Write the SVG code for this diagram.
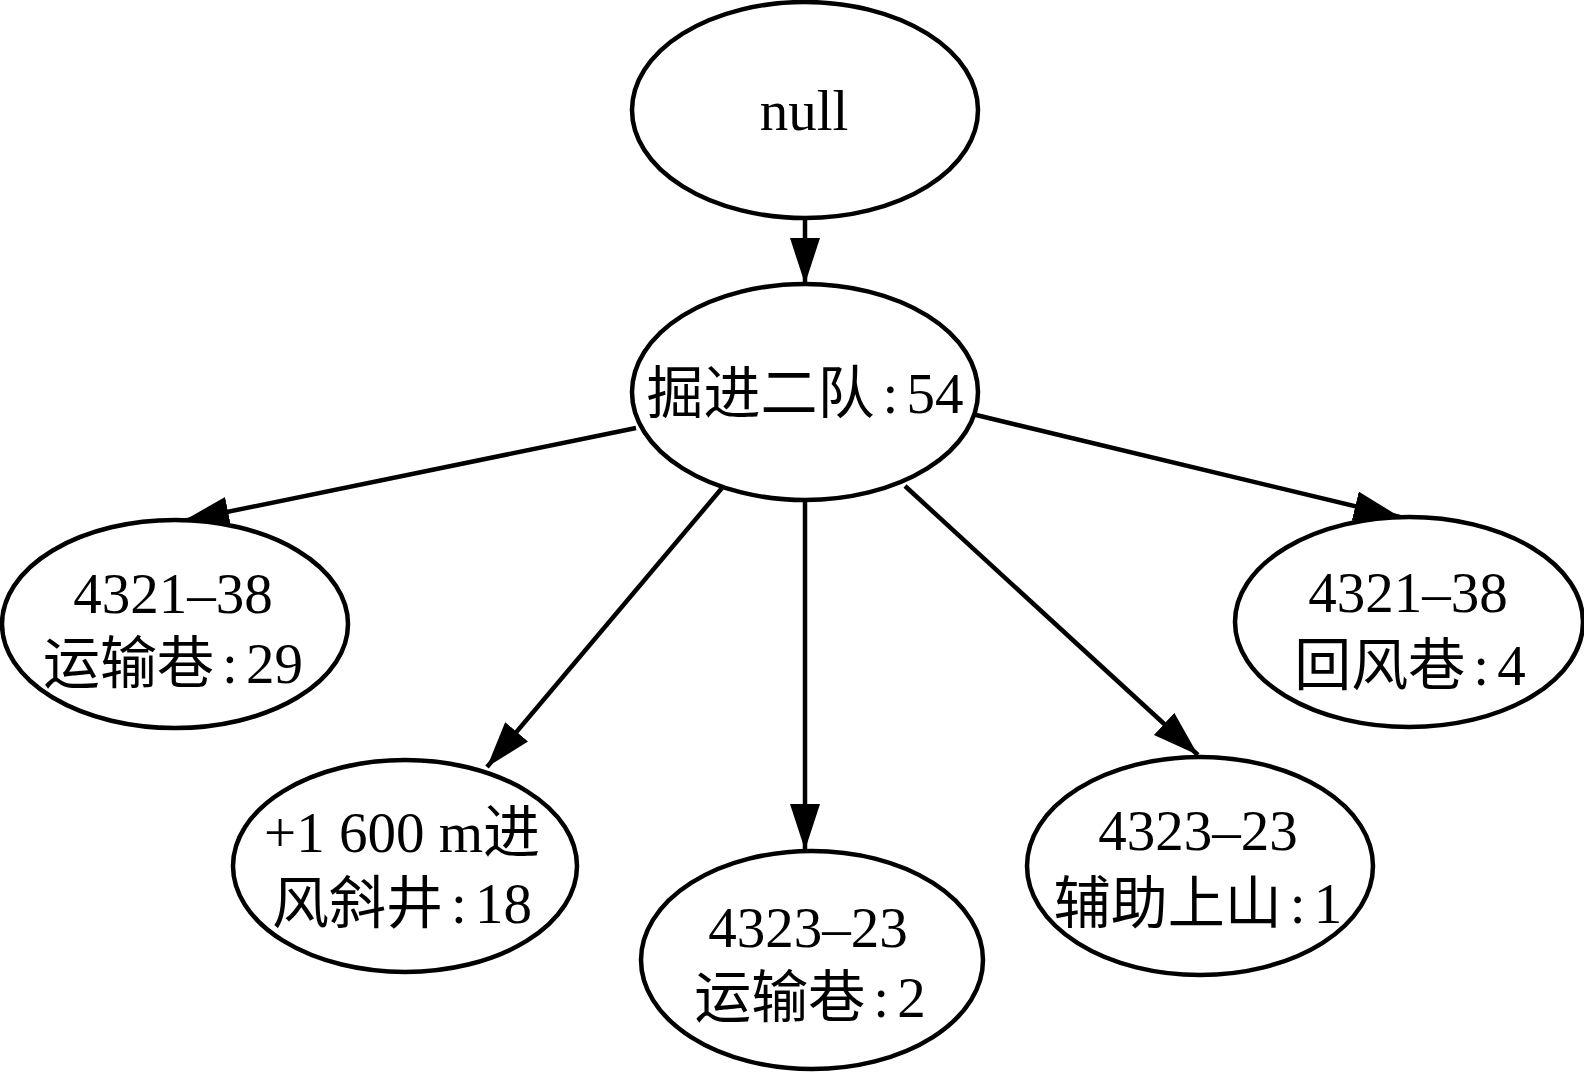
<svg xmlns="http://www.w3.org/2000/svg" width="1584" height="1072" viewBox="0 0 1584 1072">
<style>
.n ellipse{fill:#fff;stroke:#000;stroke-width:4.5}
.n text{font-family:"Liberation Serif","Noto Sans CJK SC",serif;font-size:57px;fill:#000;text-anchor:middle}
.e line{stroke:#000;stroke-width:4.5;marker-end:url(#ah)}
</style>
<defs>
<marker id="ah" markerUnits="userSpaceOnUse" markerWidth="50" markerHeight="34" refX="46" refY="15" orient="auto" viewBox="0 0 50 34">
<path d="M0,0 L46,15 L0,30 z" fill="#000"/>
</marker>
</defs>
<rect width="1584" height="1072" fill="#fff"/>
<g id="edges" class="e">
<line x1="805" y1="218" x2="805" y2="284"/>
<line x1="636" y1="428" x2="183" y2="521"/>
<line x1="972" y1="414" x2="1400" y2="517"/>
<line x1="722" y1="488" x2="487" y2="767"/>
<line x1="805" y1="500" x2="805" y2="850"/>
<line x1="905" y1="486" x2="1198" y2="755"/>
</g>
<g id="n0" class="n">
<ellipse cx="805" cy="110" rx="173" ry="108"/>
<text x="804" y="130">null</text>
</g>
<g id="n1" class="n">
<ellipse cx="805" cy="392" rx="173" ry="108"/>
<text x="805" y="413">掘进二队<tspan dx="8">:</tspan><tspan dx="8">54</tspan></text>
</g>
<g id="n2" class="n">
<ellipse cx="175" cy="624" rx="173" ry="104"/>
<text x="173" y="613">4321–38</text>
<text x="173" y="683">运输巷<tspan dx="8">:</tspan><tspan dx="8">29</tspan></text>
</g>
<g id="n3" class="n">
<ellipse cx="1409" cy="622" rx="174" ry="105"/>
<text x="1408" y="612">4321–38</text>
<text x="1410" y="685">回风巷<tspan dx="8">:</tspan><tspan dx="8">4</tspan></text>
</g>
<g id="n4" class="n">
<ellipse cx="405" cy="866" rx="172" ry="106"/>
<text x="402" y="852">+1 600 m进</text>
<text x="402" y="923">风斜井<tspan dx="8">:</tspan><tspan dx="8">18</tspan></text>
</g>
<g id="n5" class="n">
<ellipse cx="812" cy="960" rx="171" ry="109"/>
<text x="808" y="947">4323–23</text>
<text x="810" y="1017">运输巷<tspan dx="8">:</tspan><tspan dx="8">2</tspan></text>
</g>
<g id="n6" class="n">
<ellipse cx="1200" cy="866" rx="173" ry="109"/>
<text x="1198" y="850">4323–23</text>
<text x="1198" y="923">辅助上山<tspan dx="8">:</tspan><tspan dx="8">1</tspan></text>
</g>
</svg>
